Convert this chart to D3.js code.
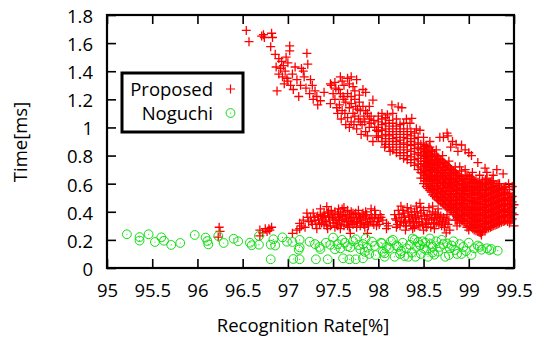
<!DOCTYPE html>
<html><head><meta charset="utf-8">
<script src="https://cdn.jsdelivr.net/npm/d3@7"></script>
<style>body{margin:0;background:#fff}svg{display:block}text{font-family:"Open Sans",sans-serif}</style>
</head><body>
<svg id="c" width="536" height="338"></svg>
<script>
const xTicks = [95,95.5,96,96.5,97,97.5,98,98.5,99,99.5];
const yTicks = [0,0.2,0.4,0.6,0.8,1,1.2,1.4,1.6,1.8];
const seriesNames = ["Proposed","Noguchi"];

// Proposed: sparse upper-left branch and scattered points
const proposedUpper = [[96.54,1.69],[96.57,1.61],[96.71,1.65],[96.73,1.66],[96.74,1.64],[96.82,1.67],[96.83,1.64],[96.81,1.575],[96.86,1.52],[97.02,1.58],[97.02,1.545],[97.21,1.527],[96.9,1.49],[96.93,1.47],[96.95,1.44],[96.92,1.42],[96.97,1.4],[96.9,1.38],[96.94,1.36],[96.99,1.35],[97.0,1.33],[96.96,1.31],[97.03,1.3],[96.88,1.26],[97.12,1.22],[97.08,1.43],[97.15,1.42],[97.05,1.38],[97.1,1.34],[97.14,1.3],[97.18,1.36],[97.2,1.28],[97.25,1.34],[97.27,1.3],[97.3,1.26],[97.32,1.22],[97.28,1.2],[97.33,1.16],[97.47,1.31],[97.22,1.45],[97.17,1.4],[97.24,1.24],[97.36,1.19],[97.4,1.25],[97.0,1.46],[96.98,1.5],[97.06,1.27],[96.87,1.43],
[97.58,1.36],[97.66,1.35],[97.7,1.36],[97.76,1.34],[97.48,1.3],[97.53,1.28],[97.56,1.27],[97.62,1.3],[97.72,1.29],[97.83,1.27],[97.86,1.25],[97.61,1.22],[97.47,1.17],[97.52,1.2],[97.57,1.16],[97.64,1.18],[97.68,1.14],[97.6,1.12],[97.55,1.1],[97.72,1.1],[97.75,1.15],[97.8,1.12],[97.66,1.07],[97.7,1.04],[97.78,1.06],[97.84,1.08],[97.88,1.1],[97.94,1.195],[97.9,1.15],[97.82,1.02],[97.9,1.0],[97.86,0.97],[97.95,1.05],[97.98,0.98],[97.94,0.9],[97.62,1.2],[97.5,1.24],[97.74,1.2],[97.79,1.18],[97.59,1.06],[97.64,1.02],[97.76,0.99],[97.81,0.95],
[97.52,1.32],[97.6,1.33],[97.68,1.31],[97.74,1.26],[97.79,1.23],[97.7,1.22],[97.58,1.24],[97.66,1.24],[97.54,1.14],[97.63,1.1],[97.7,1.17],[97.77,1.13],[97.83,1.15],[97.86,1.12],[97.92,1.08],[97.74,1.08],[97.8,1.04],[97.85,1.04],[97.92,1.03],[97.96,1.0],[97.88,0.94],[97.98,0.94],[97.68,1.0],[97.73,1.02],[97.9,1.06],
[98.15,1.16],[98.22,1.147],[98.26,1.14],[98.04,1.1],[98.37,1.065],[98.35,1.03],[98.42,0.99],[98.1,1.09],[98.31,1.06],[98.07,0.86],[98.13,0.83],[98.46,0.98],[98.5,0.93],
[98.68,0.93],[98.72,0.93],[98.76,0.96],[98.77,0.94],[98.82,0.9],[98.86,0.88],[98.92,0.875],[98.96,0.84],[99.0,0.82],[99.03,0.8],[98.8,0.86],[98.88,0.83],
[98.9,0.72],[98.96,0.7],[99.04,0.68],[99.12,0.66],[99.18,0.71],[99.31,0.7],[99.38,0.67],[99.44,0.6],[99.1,0.75],[99.2,0.68],[99.27,0.66],[99.48,0.58],
[99.14,0.235],[98.98,0.29],[99.0,0.27],[99.5,0.3],[99.5,0.45],[99.5,0.38]];

// Proposed: dense main band, one column per x with its y values
const proposedBand = [
[98.0,[0.93,0.97,1.0,1.04,1.08]],
[98.04,[0.9,0.94,0.98,1.02,1.06]],
[98.08,[0.88,0.92,0.95,0.99,1.03,1.07]],
[98.12,[0.86,0.9,0.94,0.97,1.01,1.05]],
[98.16,[0.84,0.88,0.92,0.95,0.99,1.03,1.1]],
[98.2,[0.82,0.86,0.9,0.93,0.97,1.01,1.06]],
[98.24,[0.8,0.84,0.88,0.91,0.95,0.99,1.02]],
[98.28,[0.78,0.82,0.86,0.89,0.93,0.97,1.03]],
[98.32,[0.77,0.8,0.84,0.88,0.92,0.95,0.99]],
[98.36,[0.75,0.79,0.83,0.87,0.9,0.94,0.97]],
[98.4,[0.73,0.77,0.81,0.85,0.88,0.92,0.96]],
[98.44,[0.7,0.74,0.78,0.82,0.86,0.89,0.93]],
[98.47,[0.64,0.68,0.72,0.76,0.8,0.84,0.88]],
[98.5,[0.6,0.64,0.67,0.71,0.74,0.78,0.81,0.85,0.88]],
[98.515,[0.62,0.655,0.69,0.725,0.76,0.795,0.83,0.865]],
[98.53,[0.58,0.62,0.66,0.69,0.73,0.76,0.8,0.83,0.87]],
[98.55,[0.565,0.6,0.64,0.675,0.715,0.75,0.785,0.82,0.855]],
[98.57,[0.55,0.59,0.63,0.66,0.7,0.74,0.77,0.81,0.86,0.9]],
[98.585,[0.54,0.575,0.615,0.65,0.69,0.725,0.765,0.8,0.84]],
[98.6,[0.52,0.56,0.6,0.64,0.68,0.71,0.75,0.79,0.83]],
[98.62,[0.51,0.55,0.585,0.625,0.66,0.7,0.735,0.77,0.81]],
[98.64,[0.5,0.54,0.58,0.62,0.65,0.69,0.73,0.76,0.8,0.84]],
[98.655,[0.49,0.53,0.565,0.605,0.64,0.68,0.715,0.75,0.79]],
[98.67,[0.48,0.52,0.56,0.6,0.63,0.67,0.71,0.74,0.78]],
[98.69,[0.47,0.51,0.545,0.585,0.62,0.66,0.695,0.735,0.77]],
[98.71,[0.46,0.5,0.54,0.57,0.61,0.65,0.68,0.72,0.76,0.8]],
[98.725,[0.45,0.49,0.525,0.565,0.6,0.64,0.675,0.715,0.75]],
[98.74,[0.44,0.48,0.52,0.55,0.59,0.63,0.66,0.7,0.74]],
[98.76,[0.43,0.47,0.505,0.545,0.58,0.62,0.655,0.695,0.73]],
[98.78,[0.42,0.46,0.5,0.53,0.57,0.61,0.64,0.68,0.72,0.76]],
[98.795,[0.415,0.45,0.49,0.525,0.565,0.6,0.64,0.675,0.71]],
[98.81,[0.41,0.44,0.48,0.52,0.55,0.59,0.63,0.66,0.7]],
[98.83,[0.395,0.43,0.47,0.505,0.545,0.58,0.62,0.655,0.69]],
[98.85,[0.38,0.42,0.46,0.5,0.53,0.57,0.61,0.64,0.68,0.72]],
[98.865,[0.37,0.41,0.45,0.485,0.52,0.56,0.595,0.635,0.67]],
[98.88,[0.36,0.4,0.44,0.48,0.51,0.55,0.59,0.62,0.66]],
[98.9,[0.35,0.39,0.43,0.465,0.5,0.54,0.575,0.615,0.65]],
[98.92,[0.34,0.38,0.42,0.46,0.49,0.53,0.57,0.6,0.64,0.69]],
[98.935,[0.335,0.375,0.41,0.45,0.485,0.52,0.56,0.595,0.635]],
[98.95,[0.33,0.37,0.41,0.44,0.48,0.52,0.55,0.59,0.63]],
[98.97,[0.315,0.355,0.395,0.43,0.47,0.505,0.545,0.58,0.62,0.66]],
[98.99,[0.3,0.35,0.39,0.42,0.46,0.5,0.53,0.57,0.61,0.66]],
[99.01,[0.3,0.34,0.38,0.415,0.455,0.49,0.53,0.57,0.61,0.65]],
[99.03,[0.29,0.33,0.37,0.41,0.44,0.48,0.52,0.56,0.6,0.64]],
[99.045,[0.28,0.32,0.36,0.4,0.435,0.475,0.515,0.55,0.59,0.63]],
[99.06,[0.27,0.31,0.35,0.39,0.43,0.47,0.5,0.54,0.58,0.62]],
[99.08,[0.265,0.305,0.345,0.385,0.425,0.465,0.5,0.54,0.58,0.62]],
[99.1,[0.26,0.3,0.34,0.38,0.42,0.46,0.5,0.53,0.57,0.61]],
[99.115,[0.255,0.295,0.335,0.375,0.415,0.455,0.49,0.53,0.57,0.61]],
[99.13,[0.25,0.29,0.33,0.37,0.41,0.45,0.49,0.52,0.56,0.6]],
[99.15,[0.26,0.3,0.34,0.38,0.42,0.46,0.5,0.54,0.58,0.62]],
[99.17,[0.27,0.31,0.35,0.39,0.43,0.47,0.51,0.55,0.59]],
[99.185,[0.275,0.315,0.355,0.395,0.435,0.475,0.515,0.555,0.595,0.63]],
[99.2,[0.28,0.32,0.36,0.4,0.44,0.48,0.52,0.56,0.6,0.64]],
[99.22,[0.285,0.325,0.365,0.405,0.445,0.485,0.525,0.565,0.605]],
[99.24,[0.29,0.33,0.37,0.41,0.45,0.49,0.53,0.57,0.61]],
[99.255,[0.295,0.335,0.375,0.415,0.455,0.495,0.535,0.575,0.62]],
[99.27,[0.3,0.34,0.38,0.42,0.46,0.5,0.54,0.58,0.62]],
[99.29,[0.305,0.345,0.385,0.425,0.465,0.505,0.545,0.585]],
[99.31,[0.31,0.35,0.39,0.43,0.47,0.51,0.55,0.59]],
[99.325,[0.315,0.355,0.395,0.435,0.475,0.515,0.555,0.6]],
[99.34,[0.32,0.36,0.4,0.44,0.48,0.52,0.56,0.6]],
[99.36,[0.325,0.365,0.405,0.445,0.485,0.525,0.565]],
[99.38,[0.33,0.37,0.41,0.45,0.49,0.53,0.57]],
[99.395,[0.335,0.375,0.415,0.455,0.495,0.535,0.575]],
[99.41,[0.34,0.38,0.42,0.46,0.5,0.54,0.58]],
[99.43,[0.33,0.37,0.41,0.45,0.49,0.53]],
[99.45,[0.32,0.36,0.4,0.44,0.48,0.52,0.56]],
[99.465,[0.34,0.38,0.42,0.46,0.5]],
[99.48,[0.35,0.39,0.43,0.47,0.51]]];

// Proposed: lower clusters
const proposedLower = [[96.24,0.29],[96.25,0.26],[96.23,0.22],
[96.69,0.27],[96.72,0.25],[96.75,0.28],[96.77,0.26],[96.79,0.28],[96.8,0.27],[96.82,0.29],[96.69,0.228],
[97.05,0.247],[97.13,0.318],[97.15,0.3],[97.13,0.28],[97.17,0.34],[97.1,0.27],[97.19,0.29],
[97.21,0.39],[97.28,0.39],[97.25,0.36],[97.23,0.33],[97.3,0.34],[97.33,0.37],[97.35,0.31],[97.38,0.35],[97.4,0.39],[97.42,0.33],[97.43,0.436],[97.45,0.37],[97.47,0.3],[97.5,0.35],[97.52,0.4],[97.54,0.32],[97.56,0.36],[97.58,0.38],[97.6,0.34],[97.62,0.3],[97.64,0.37],[97.66,0.41],[97.67,0.33],[97.69,0.247],[97.7,0.36],[97.72,0.39],[97.74,0.32],[97.76,0.35],[97.78,0.38],[97.8,0.3],[97.82,0.34],[97.84,0.37],[97.86,0.4],[97.88,0.32],[97.88,0.247],[97.9,0.35],[97.92,0.38],[97.94,0.33],[97.96,0.36],[97.98,0.3],[98.0,0.35],[98.02,0.38],[98.05,0.34],[97.36,0.42],[97.48,0.41],[97.6,0.42],[97.68,0.29],[97.58,0.28],[97.44,0.28],[97.32,0.28],[97.76,0.29],[97.96,0.41],[97.53,0.34],[97.71,0.33],[97.85,0.29],[97.39,0.37],[97.63,0.35],[97.8,0.36],[97.27,0.31],
[97.22,0.36],[97.26,0.33],[97.29,0.36],[97.31,0.31],[97.34,0.34],[97.36,0.38],[97.37,0.32],[97.41,0.36],[97.43,0.3],[97.44,0.39],[97.46,0.34],[97.49,0.38],[97.5,0.32],[97.51,0.36],[97.55,0.39],[97.55,0.3],[97.57,0.34],[97.59,0.31],[97.61,0.37],[97.62,0.4],[97.65,0.33],[97.66,0.3],[97.68,0.38],[97.69,0.34],[97.72,0.31],[97.73,0.36],[97.75,0.39],[97.77,0.33],[97.79,0.36],[97.81,0.32],[97.83,0.39],[97.84,0.31],[97.86,0.35],[97.87,0.38],[97.89,0.3],[97.91,0.33],[97.93,0.36],[97.95,0.31],[97.97,0.38],[97.99,0.33],[98.01,0.31],[98.03,0.36],[97.62,0.43],[97.7,0.4],[97.45,0.4],[97.56,0.42],[97.78,0.41],[97.92,0.42],[97.4,0.31],[97.52,0.29],
[98.09,0.318],[98.09,0.28],[98.11,0.3],
[98.18,0.38],[98.2,0.34],[98.22,0.41],[98.24,0.3],[98.26,0.36],[98.28,0.39],[98.3,0.33],[98.32,0.43],[98.34,0.37],[98.36,0.3],[98.38,0.35],[98.4,0.4],[98.42,0.33],[98.44,0.37],[98.46,0.46],[98.46,0.3],[98.48,0.35],[98.5,0.41],[98.52,0.32],[98.54,0.38],[98.56,0.34],[98.58,0.29],[98.6,0.4],[98.62,0.36],[98.64,0.32],[98.66,0.38],[98.68,0.34],[98.7,0.3],[98.72,0.36],[98.75,0.25],[98.74,0.32],[98.76,0.38],[98.79,0.27],[98.78,0.34],[98.3,0.27],[98.36,0.42],[98.5,0.27],[98.4,0.29],[98.25,0.44],[98.56,0.43],[98.62,0.28],[98.34,0.33],[98.47,0.39],[98.66,0.42],[98.2,0.29],
[98.19,0.35],[98.21,0.31],[98.23,0.38],[98.25,0.33],[98.27,0.41],[98.29,0.36],[98.31,0.3],[98.33,0.4],[98.35,0.34],[98.37,0.38],[98.39,0.32],[98.41,0.36],[98.43,0.4],[98.45,0.33],[98.47,0.43],[98.49,0.31],[98.51,0.37],[98.53,0.35],[98.55,0.31],[98.57,0.38],[98.59,0.35],[98.61,0.32],[98.63,0.39],[98.65,0.35],[98.67,0.31],[98.69,0.37],[98.71,0.33],[98.73,0.29],[98.75,0.35],[98.77,0.31],[98.42,0.44],[98.38,0.28],[98.53,0.29],[98.6,0.44],[98.28,0.32],[98.44,0.3],
[98.83,0.38],[98.85,0.34],[98.87,0.3],[98.86,0.41],[98.88,0.36],[98.9,0.32],[98.87,0.34]];

const noguchi = [[95.22,0.24],[95.36,0.22],[95.36,0.195],[95.46,0.24],[95.53,0.185],[95.6,0.218],[95.63,0.194],[95.71,0.164],[95.81,0.178],[95.97,0.235],[96.09,0.216],[96.11,0.192],[96.12,0.168],[96.23,0.228],[96.29,0.178],[96.4,0.208],[96.45,0.19],[96.58,0.18],[96.6,0.162],[96.68,0.166],[96.68,0.228],[96.81,0.166],[96.84,0.204],[96.86,0.16],[96.94,0.218],[96.99,0.187],[97.05,0.185],[97.13,0.2],[97.13,0.147],[97.12,0.13],[96.81,0.062],[97.06,0.064],[97.13,0.062],[97.24,0.187],[97.3,0.17],[97.35,0.15],[97.36,0.135],[97.31,0.062],[97.44,0.062],[97.5,0.216],[97.52,0.133],[97.6,0.2],
[97.42,0.18],[97.47,0.165],[97.55,0.17],[97.58,0.14],[97.61,0.069],[97.63,0.18],[97.66,0.155],[97.68,0.062],[97.69,0.147],[97.72,0.19],[97.75,0.204],[97.75,0.062],[97.78,0.163],[97.8,0.134],[97.83,0.17],[97.83,0.069],[97.86,0.21],[97.88,0.145],[97.93,0.187],[97.96,0.157],[97.97,0.092],[98.03,0.18],[98.05,0.116],[98.07,0.08],[97.9,0.1],[97.85,0.115],
[98.04,0.175],[98.07,0.105],[98.12,0.14],[98.14,0.19],[98.18,0.08],[98.2,0.16],[98.22,0.15],[98.25,0.12],[98.27,0.18],[98.29,0.085],[98.31,0.14],[98.33,0.08],[98.35,0.165],[98.37,0.11],[98.4,0.2],[98.41,0.08],[98.42,0.15],[98.44,0.185],[98.46,0.163],[98.47,0.1],[98.49,0.19],[98.5,0.14],[98.16,0.2],[98.09,0.15],[98.24,0.1],[98.38,0.21],
[98.53,0.128],[98.55,0.08],[98.57,0.21],[98.58,0.17],[98.6,0.15],[98.62,0.095],[98.64,0.19],[98.66,0.116],[98.68,0.15],[98.7,0.2],[98.72,0.17],[98.74,0.08],[98.76,0.175],[98.78,0.092],[98.79,0.14],[98.81,0.16],[98.83,0.19],[98.85,0.128],[98.87,0.1],[98.9,0.17],[98.94,0.15],[98.97,0.12],[99.0,0.18],[99.03,0.093],[99.06,0.14],[99.1,0.16],[99.12,0.15],[99.14,0.13],[99.2,0.14],[99.23,0.128],[99.25,0.135],[99.32,0.123],[98.52,0.18],[98.6,0.11],[98.92,0.1]];

const proposed = proposedUpper
  .concat(proposedBand.flatMap(([x, ys]) => ys.map(y => [x, y])))
  .concat(proposedLower);

const svg = d3.select("#c");
const x = d3.scaleLinear().domain([95, 99.5]).range([107, 514]);
const y = d3.scaleLinear().domain([0, 1.8]).range([268, 15]);
const FS = 18.5;

// axes
const gx = svg.append("g").attr("transform", "translate(0,268)")
  .call(d3.axisBottom(x).tickValues(xTicks).tickSizeInner(-9).tickSizeOuter(0).tickPadding(16).tickFormat(d3.format("~g")));
const gxt = svg.append("g").attr("transform", "translate(0,15)")
  .call(d3.axisTop(x).tickValues(xTicks).tickSizeInner(-9).tickSizeOuter(0).tickFormat(""));
const gy = svg.append("g").attr("transform", "translate(107,0)")
  .call(d3.axisLeft(y).tickValues(yTicks).tickSizeInner(-9).tickSizeOuter(0).tickPadding(14).tickFormat(d3.format("~g")));
const gyr = svg.append("g").attr("transform", "translate(514,0)")
  .call(d3.axisRight(y).tickValues(yTicks).tickSizeInner(-9).tickSizeOuter(0).tickFormat(""));
[gx, gxt, gy, gyr].forEach(g => {
  g.select(".domain").remove();
  g.selectAll("line").attr("stroke", "#000").attr("stroke-width", 1.6);
  g.selectAll("text").attr("font-size", FS).attr("fill", "#000").style("font-family", '"Open Sans",sans-serif');
});
gy.selectAll("text").attr("dy", "0.4em");

// data: proposed (+)
svg.append("g").selectAll("path").data(proposed).join("path")
  .attr("d", d => `M${x(d[0]) - 4.5},${y(d[1])}h9M${x(d[0])},${y(d[1]) - 4.5}v9`)
  .attr("stroke", "#ff0000").attr("stroke-width", 1.3).attr("fill", "none");

// data: noguchi (circle with dot)
const ng = svg.append("g");
ng.selectAll("circle.o").data(noguchi).join("circle").attr("class", "o")
  .attr("cx", d => x(d[0])).attr("cy", d => y(d[1])).attr("r", 4.4)
  .attr("fill", "none").attr("stroke", "#11dd11").attr("stroke-width", 1);
ng.selectAll("circle.d").data(noguchi).join("circle").attr("class", "d")
  .attr("cx", d => x(d[0])).attr("cy", d => y(d[1])).attr("r", 0.6)
  .attr("fill", "#11dd11");

// border
svg.append("rect").attr("x", 107).attr("y", 15).attr("width", 407).attr("height", 253)
  .attr("fill", "none").attr("stroke", "#000").attr("stroke-width", 2.2);

// legend
const lg = svg.append("g");
lg.append("rect").attr("x", 122).attr("y", 73).attr("width", 121).attr("height", 59)
  .attr("fill", "#fff").attr("stroke", "#000").attr("stroke-width", 3);
lg.append("text").attr("x", 213).attr("y", 96).attr("text-anchor", "end").attr("font-size", FS).text(seriesNames[0]);
lg.append("text").attr("x", 213).attr("y", 120).attr("text-anchor", "end").attr("font-size", FS).text(seriesNames[1]);
lg.append("path").attr("d", "M226,89h9M230.5,84.5v9").attr("stroke", "#ff0000").attr("stroke-width", 1.2);
lg.append("circle").attr("cx", 230.5).attr("cy", 113).attr("r", 4.4).attr("fill", "none").attr("stroke", "#11dd11");
lg.append("circle").attr("cx", 230.5).attr("cy", 113).attr("r", 0.6).attr("fill", "#11dd11");

// axis titles
svg.append("text").attr("x", 303).attr("y", 332).attr("text-anchor", "middle").attr("font-size", FS).text("Recognition Rate[%]");
svg.append("text").attr("transform", "translate(27,142) rotate(-90)").attr("text-anchor", "middle").attr("font-size", FS).text("Time[ms]");
</script>
</body></html>
